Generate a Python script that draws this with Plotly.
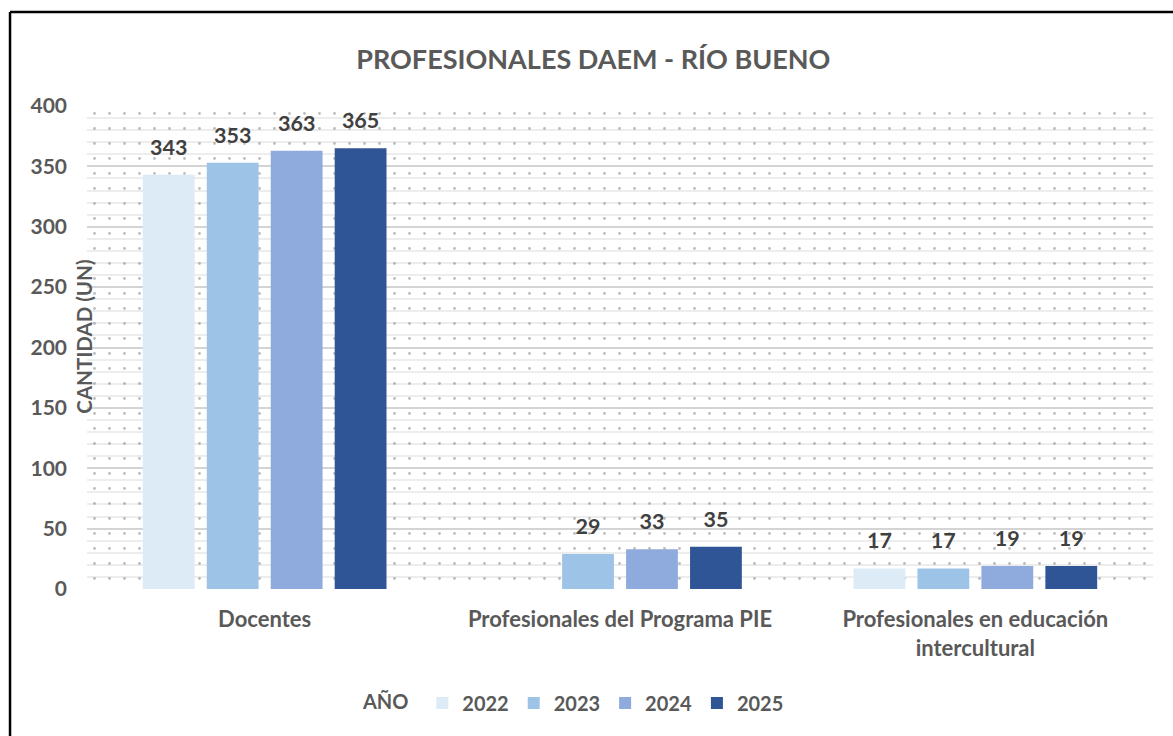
import plotly.graph_objects as go

categories = ["Docentes", "Profesionales del Programa PIE", "Profesionales en educación<br>intercultural"]
years = ["2022", "2023", "2024", "2025"]
v2022 = [343, None, 17]
v2023 = [353, 29, 17]
v2024 = [363, 33, 19]
v2025 = [365, 35, 19]
series = [v2022, v2023, v2024, v2025]
colors = ["#DDEBF7", "#9DC3E6", "#8FAADC", "#2F5597"]
y_ticks = [0, 50, 100, 150, 200, 250, 300, 350, 400]
Y_MAX = 400

FONT = "Lato"
TXT = "#595959"
GAP = 0.28

fig = go.Figure()

# dotted background texture of the plot area
fig.add_trace(go.Bar(
    x=[0.5], y=[Y_MAX], width=[1], xaxis="x", yaxis="y",
    marker=dict(color="rgba(0,0,0,0)", line=dict(width=0),
                pattern=dict(shape=".", fgcolor="#7a7a7a", size=15, solidity=0.027,
                             fillmode="overlay")),
    showlegend=False, hoverinfo="skip",
))

for yr, vals, col in zip(years, series, colors):
    fig.add_trace(go.Bar(
        name=yr, x=categories, y=vals, xaxis="x2", yaxis="y",
        offsetgroup=yr, alignmentgroup="g",
        marker=dict(color=col, line=dict(width=0)),
    ))

# value labels, grouped like the bars
for yr, vals in zip(years, series):
    fig.add_trace(go.Scatter(
        x=categories, y=vals, xaxis="x2", yaxis="y",
        offsetgroup=yr, alignmentgroup="g",
        mode="markers+text", marker=dict(size=22, opacity=0),
        text=[("" if v is None else str(v)) for v in vals],
        textposition="top center", cliponaxis=False,
        textfont=dict(family=FONT, size=21.5, color="#404040", weight="bold"),
        showlegend=False, hoverinfo="skip",
    ))

fig.update_layout(
    width=1173, height=736,
    margin=dict(l=87, r=20, t=106, b=147),
    paper_bgcolor="white", plot_bgcolor="white",
    barmode="group", bargap=GAP, bargroupgap=0.19,
    scattermode="group", scattergap=GAP,
    font=dict(family=FONT, color=TXT),
    title=dict(text="<b>PROFESIONALES DAEM - RÍO BUENO</b>",
               font=dict(family=FONT, size=27, color=TXT),
               x=0.475, xref="paper", xanchor="center", y=1 - 60 / 736, yanchor="middle"),
    xaxis=dict(range=[0, 1], visible=False, fixedrange=True, automargin=False),
    xaxis2=dict(type="category", overlaying="x", anchor="y", side="bottom",
                showgrid=False, showline=False, ticks="", automargin=False,
                tickfont=dict(family=FONT, size=22, color=TXT, weight="bold"),
                ticklabelstandoff=15),
    yaxis=dict(range=[0, Y_MAX], tickvals=y_ticks, showline=False, zeroline=False,
               gridcolor="#d4d4d4", gridwidth=1.5, ticks="", automargin=False,
               tickfont=dict(family=FONT, size=21, color=TXT, weight="bold"),
               ticklabelstandoff=19,
               minor=dict(dtick=10, showgrid=True, gridcolor="#ededed", gridwidth=1.5)),
    legend=dict(orientation="h", x=0.257, xanchor="left", y=-0.236, yanchor="middle",
                title=dict(text="<b>AÑO</b> ", font=dict(family=FONT, size=20, color=TXT)),
                font=dict(family=FONT, size=20, color=TXT, weight="bold"),
                itemwidth=30, traceorder="normal"),
    showlegend=True,
)

fig.add_annotation(text="<b>CANTIDAD (UN)</b>", xref="paper", yref="paper",
                   x=-0.003, y=0.522, xanchor="center", yanchor="middle",
                   textangle=-90, showarrow=False,
                   font=dict(family=FONT, size=20.5, color=TXT))

# chart frame (left and top border)
fig.add_shape(type="line", xref="paper", yref="paper", x0=-0.0722, x1=-0.0722,
              y0=-0.33, y1=1.1946, line=dict(color="black", width=2.5))
fig.add_shape(type="line", xref="paper", yref="paper", x0=-0.0722, x1=1.03,
              y0=1.1946, y1=1.1946, line=dict(color="black", width=2.5))

fig.write_html("out.html", config={"displayModeBar": False},
               post_script="document.body.style.margin='0';")
